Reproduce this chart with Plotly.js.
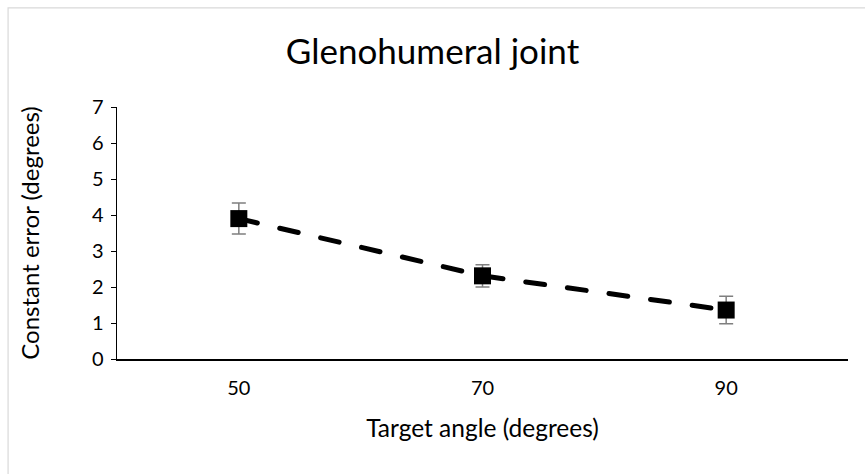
<!DOCTYPE html>
<html><head><meta charset="utf-8">
<script src="https://cdn.plot.ly/plotly-3.0.1.min.js"></script>
<style>html,body{margin:0;padding:0;background:#fff;}#chart{width:865px;height:474px;}
#chart .scatterlayer path.js-line{stroke-linecap:round;}</style>
</head><body><div id="chart"></div>
<script>
const categories = ["50", "70", "90"];
const constantError = [3.90, 2.31, 1.36];
const errorBars = [0.43, 0.31, 0.38];
const yTicks = [0, 1, 2, 3, 4, 5, 6, 7];

const FONT = "Lato, 'Open Sans', sans-serif";
const trace = {
  x: categories, y: constantError, type: "scatter", mode: "lines+markers",
  line: {color: "#000", width: 5, dash: "19px,23px"},
  marker: {symbol: "square", size: 17, color: "#000"},
  error_y: {type: "data", array: errorBars, visible: true, color: "#7f7f7f", thickness: 1.5, width: 7},
  cliponaxis: false, hoverinfo: "skip"
};
const layout = {
  width: 865, height: 474,
  margin: {l: 117, r: 17, t: 107, b: 115},
  paper_bgcolor: "#fff", plot_bgcolor: "#fff",
  showlegend: false,
  font: {family: FONT, color: "#000"},
  title: {text: "Glenohumeral joint", font: {family: FONT, size: 35, color: "#000"}, x: 0.5, xanchor: "center", y: 0.89, yanchor: "middle"},
  xaxis: {
    type: "category", range: [-0.5, 2.5], showgrid: false, zeroline: false,
    showline: true, linecolor: "#000", linewidth: 1.5, ticks: "", ticklabelstandoff: 10,
    tickfont: {family: FONT, size: 20, color: "#000"},
    title: {text: "Target angle (degrees)", font: {family: FONT, size: 24.5, color: "#000"}, standoff: 22}
  },
  yaxis: {
    range: [0, 7], tickvals: yTicks, showgrid: false, zeroline: false,
    showline: true, linecolor: "#000", linewidth: 1.5, ticks: "outside", ticklen: 5, tickcolor: "#000", tickwidth: 1,
    ticklabelstandoff: 3,
    tickfont: {family: FONT, size: 20, color: "#000"},
    title: {text: "Constant error (degrees)", font: {family: FONT, size: 24, color: "#000"}, standoff: 45}
  },
  shapes: [{type: "rect", xref: "paper", yref: "paper", x0: -0.149, x1: 1.3, y0: -1, y1: 1.393,
            line: {color: "#d9d9d9", width: 1.2}, fillcolor: "rgba(0,0,0,0)", layer: "below"}]
};
Plotly.newPlot("chart", [trace], layout, {displayModeBar: false, staticPlot: true});
</script></body></html>
